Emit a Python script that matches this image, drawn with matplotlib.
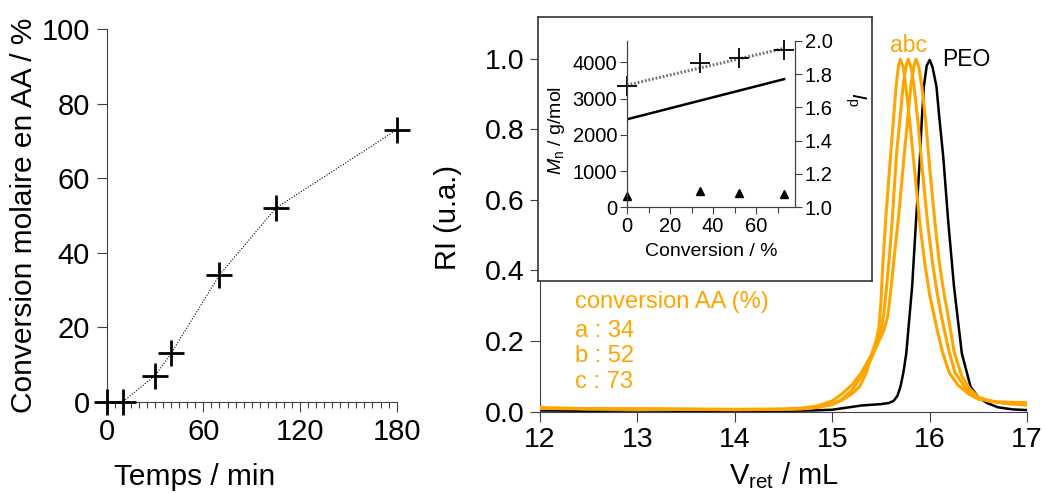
import numpy as np
import matplotlib
matplotlib.use('Agg')
import matplotlib.pyplot as plt
from matplotlib.ticker import MultipleLocator, FormatStrFormatter

plt.rcParams['font.family'] = ['Liberation Sans', 'DejaVu Sans']
plt.rcParams['mathtext.fontset'] = 'custom'
plt.rcParams['mathtext.rm'] = 'Liberation Sans'
plt.rcParams['mathtext.it'] = 'Liberation Sans:italic'

# kinetics (left panel)
time_min = [0, 10, 30, 40, 70, 105, 180]
conv_pct = [0, 0, 7, 13, 34, 52, 73]

# inset: Mn and Ip vs conversion
conv_inset = [0, 34, 52, 73]
mn_exp = [3350, 3980, 4115, 4345]
ip_exp = [1.07, 1.10, 1.085, 1.08]
conv_line = [0, 73]
mn_theo = [2430, 3540]
mn_fit = [3375, 4390]

# SEC traces (RI vs retention volume)
v_peo = [12.0, 12.5, 13.0, 13.5, 14.0, 14.5, 14.8, 15.0, 15.1, 15.2, 15.3, 15.4, 15.5, 15.58, 15.63,
         15.67, 15.70, 15.73, 15.76, 15.79, 15.82, 15.86, 15.90, 15.92, 15.94, 15.97, 16.0, 16.03,
         16.07, 16.10, 16.14, 16.19, 16.25, 16.33, 16.42, 16.5, 16.59, 16.7, 16.85, 17.0]
ri_peo = [0.003, 0.002, 0.003, 0.002, 0.002, 0.002, 0.003, 0.005, 0.009, 0.013, 0.017, 0.019, 0.021,
          0.024, 0.03, 0.045, 0.07, 0.11, 0.165, 0.26, 0.354, 0.54, 0.72, 0.83, 0.92, 0.98, 0.996,
          0.975, 0.92, 0.83, 0.72, 0.54, 0.354, 0.165, 0.07, 0.04, 0.024, 0.012, 0.006, 0.004]

v_a = [12.0, 12.1, 12.5, 13.0, 13.5, 14.0, 14.5, 14.7, 14.85, 15.0, 15.1, 15.2, 15.3, 15.4, 15.45,
       15.48, 15.50, 15.52, 15.55, 15.60, 15.655, 15.68, 15.70, 15.73, 15.76, 15.80, 15.85, 15.90,
       15.95, 16.0, 16.07, 16.13, 16.2, 16.29, 16.4, 16.5, 16.7, 17.0]
ri_a = [0.012, 0.01, 0.008, 0.008, 0.007, 0.006, 0.007, 0.01, 0.016, 0.03, 0.05, 0.075, 0.11, 0.16,
        0.2, 0.24, 0.31, 0.42, 0.55, 0.73, 0.92, 0.98, 0.998, 0.975, 0.91, 0.81, 0.67, 0.53, 0.42,
        0.33, 0.24, 0.17, 0.11, 0.075, 0.05, 0.035, 0.027, 0.025]

v_b = [12.0, 12.5, 13.0, 13.5, 14.0, 14.5, 14.7, 14.85, 15.0, 15.1, 15.2, 15.28, 15.35, 15.4, 15.46,
       15.50, 15.53, 15.56, 15.59, 15.62, 15.66, 15.73, 15.76, 15.78, 15.81, 15.84, 15.88, 15.93,
       15.98, 16.03, 16.08, 16.12, 16.19, 16.26, 16.36, 16.45, 16.6, 16.8, 17.0]
ri_b = [0.009, 0.007, 0.006, 0.006, 0.005, 0.006, 0.008, 0.012, 0.02, 0.032, 0.05, 0.07, 0.11, 0.155,
        0.19, 0.23, 0.28, 0.36, 0.45, 0.56, 0.73, 0.93, 0.98, 0.998, 0.975, 0.92, 0.82, 0.67, 0.53,
        0.42, 0.33, 0.27, 0.18, 0.11, 0.07, 0.045, 0.03, 0.023, 0.02]

v_c = [12.0, 12.5, 13.0, 13.5, 14.0, 14.5, 14.7, 14.85, 15.0, 15.1, 15.2, 15.3, 15.4, 15.48, 15.53,
       15.57, 15.60, 15.64, 15.68, 15.74, 15.81, 15.84, 15.86, 15.89, 15.92, 15.96, 16.01, 16.06,
       16.1, 16.15, 16.19, 16.25, 16.33, 16.41, 16.5, 16.65, 16.8, 17.0]
ri_c = [0.01, 0.008, 0.007, 0.006, 0.006, 0.006, 0.008, 0.012, 0.02, 0.035, 0.06, 0.1, 0.15, 0.2,
        0.23, 0.27, 0.34, 0.448, 0.55, 0.73, 0.93, 0.98, 0.998, 0.975, 0.92, 0.82, 0.66, 0.52, 0.42,
        0.33, 0.27, 0.17, 0.1, 0.065, 0.04, 0.028, 0.022, 0.018]

sample_labels = ['a', 'b', 'c']
sample_conv = [34, 52, 73]

orange = '#FFA500'
spine_col = '0.25'

fig = plt.figure(figsize=(10.46, 4.93), dpi=100)

# ---------------- left : conversion vs time ----------------
ax1 = fig.add_axes([0.102, 0.1852, 0.2772, 0.7554])
ax1.plot(time_min, conv_pct, color='k', ls=(0, (1, 1.5)), lw=0.8,
         marker='+', ms=19, mew=2, clip_on=False, zorder=5)
ax1.set_xlim(0, 180)
ax1.set_ylim(0, 100)
ax1.set_xticks([0, 60, 120, 180])
ax1.xaxis.set_minor_locator(MultipleLocator(5))
ax1.set_yticks(range(0, 101, 20))
ax1.spines[['top', 'right']].set_visible(False)
for s in ['left', 'bottom']:
    ax1.spines[s].set_color(spine_col)
    ax1.spines[s].set_linewidth(0.8)
ax1.tick_params(which='major', direction='out', labelsize=21, length=7, width=0.8, color=spine_col, pad=5)
ax1.tick_params(which='minor', direction='out', length=4, width=0.8, color=spine_col)
ax1.set_xlabel('Temps / min', fontsize=21.5)
ax1.xaxis.set_label_coords(0.304, -0.165)
ax1.set_ylabel('Conversion molaire en AA / %', fontsize=21.5)
ax1.yaxis.set_label_coords(-0.237, 0.5)

# ---------------- right : SEC traces ----------------
ax2 = fig.add_axes([0.5163, 0.1653, 0.4656, 0.7876])
ax2.plot(v_peo, ri_peo, color='k', lw=1.8, zorder=2)
for v, ri in [(v_a, ri_a), (v_b, ri_b), (v_c, ri_c)]:
    ax2.plot(v, ri, color=orange, lw=2.2, zorder=3)
ax2.set_xlim(12, 17)
ax2.set_ylim(0, 1.1)
ax2.set_xticks(range(12, 18))
ax2.set_yticks(np.arange(0, 1.01, 0.2))
ax2.yaxis.set_major_formatter(FormatStrFormatter('%.1f'))
ax2.spines[['top', 'right']].set_visible(False)
for s in ['left', 'bottom']:
    ax2.spines[s].set_color(spine_col)
    ax2.spines[s].set_linewidth(0.8)
ax2.tick_params(direction='out', labelsize=20.5, length=7, width=0.8, color=spine_col, pad=4)
ax2.set_xlabel(r'V$_\mathrm{ret}$ / mL', fontsize=21)
ax2.xaxis.set_label_coords(0.5, -0.125)
ax2.set_ylabel('RI (u.a.)', fontsize=21)
ax2.yaxis.set_label_coords(-0.16, 0.5)

ax2.text(12.36, 0.293, 'conversion AA (%)', color=orange, fontsize=17, va='baseline')
for k, (lab, cv) in enumerate(zip(sample_labels, sample_conv)):
    ax2.text(12.36, 0.211 - k * 0.072, '%s : %d' % (lab, cv), color=orange, fontsize=17, va='baseline')
ax2.text(15.78, 1.018, ''.join(sample_labels), color=orange, fontsize=16.5, ha='center', va='baseline')
ax2.text(16.13, 0.979, 'PEO', color='k', fontsize=16.5, va='baseline')

# ---------------- inset frame ----------------
box = fig.add_axes([0.5143, 0.43, 0.3193, 0.5355])
box.set_xticks([])
box.set_yticks([])
for s in box.spines.values():
    s.set_color('0.2')
    s.set_linewidth(1.2)

# ---------------- inset : Mn / Ip vs conversion ----------------
ax3 = fig.add_axes([0.5994, 0.5795, 0.1606, 0.3379])
ax3.set_facecolor('none')
ax3.plot(conv_line, mn_theo, color='k', lw=1.8)
ax3.plot(conv_line, mn_fit, color='0.45', lw=2.2, ls=(0, (0.6, 0.6)))
ax3.plot(conv_inset, mn_exp, ls='none', marker='+', ms=14, mew=1.3, color='k', clip_on=False, zorder=5)
ax3.set_xlim(0, 78)
ax3.set_ylim(0, 4600)
ax3.set_xticks([0, 20, 40, 60])
ax3.xaxis.set_minor_locator(MultipleLocator(10))
ax3.set_yticks(range(0, 4001, 1000))
ax3.spines['top'].set_visible(False)
ax3.tick_params(which='major', direction='out', labelsize=14.5, length=5, width=0.8, color=spine_col, pad=2)
ax3.tick_params(which='minor', direction='out', length=4, width=0.8, color=spine_col)
ax3.set_xlabel('Conversion / %', fontsize=14)
ax3.xaxis.set_label_coords(0.5, -0.214)
ax3.set_ylabel(r'$M_\mathrm{n}$ / g/mol', fontsize=14)
ax3.yaxis.set_label_coords(-0.357, 0.464)

ax4 = ax3.twinx()
ax4.plot(conv_inset, ip_exp, ls='none', marker='^', ms=6, color='k', clip_on=False)
ax4.set_ylim(1.0, 2.0)
ax4.set_yticks(np.arange(1.0, 2.01, 0.2))
ax4.yaxis.set_major_formatter(FormatStrFormatter('%.1f'))
ax4.spines['top'].set_visible(False)
for a in [ax3, ax4]:
    for s in ['left', 'bottom', 'right']:
        a.spines[s].set_color(spine_col)
        a.spines[s].set_linewidth(0.8)
ax4.tick_params(direction='out', labelsize=14.5, length=5, width=0.8, color=spine_col, pad=2)
ax4.text(1.285, 0.644, r'$I_\mathrm{p}$', transform=ax4.transAxes, fontsize=15,
         rotation=-90, rotation_mode='anchor', ha='center', va='bottom')

fig.savefig('out.png', dpi=100)
